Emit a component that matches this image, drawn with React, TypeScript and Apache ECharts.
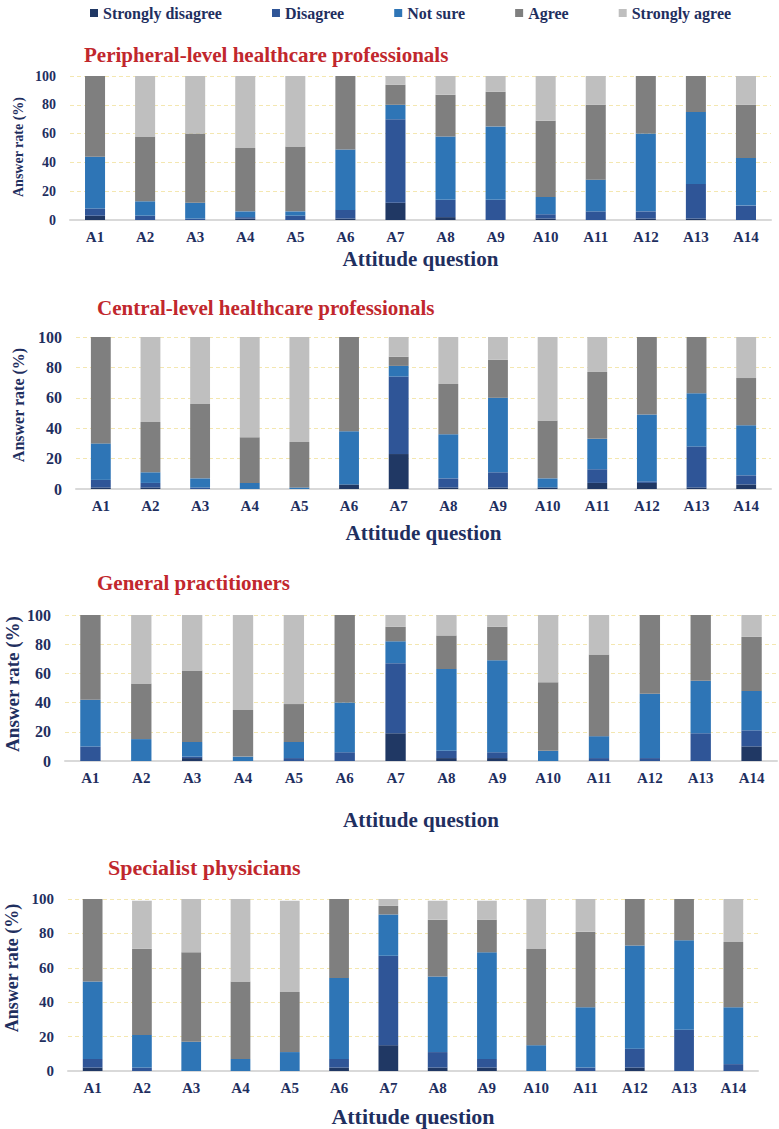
import React, { useEffect, useRef } from "react";
import * as echarts from "echarts";

// Attitude questions on the x axis
const questions = ["A1", "A2", "A3", "A4", "A5", "A6", "A7", "A8", "A9", "A10", "A11", "A12", "A13", "A14"];
const answerLevels = ["Strongly disagree", "Disagree", "Not sure", "Agree", "Strongly agree"];
const levelColors = ["#203864", "#2F5597", "#2E75B6", "#7F7F7F", "#BFBFBF"];
const yTicks = [0, 20, 40, 60, 80, 100];

// Peripheral-level healthcare professionals (%)
const periphStronglyDisagree = [3, 0, 0, 1, 0, 1, 12, 2, 0, 1, 0, 1, 1, 0];
const periphDisagree = [5, 3, 1, 1, 3, 6, 58, 12, 14, 3, 6, 5, 24, 10];
const periphNotSure = [36, 10, 11, 4, 3, 42, 10, 44, 51, 12, 22, 54, 50, 33];
const periphAgree = [56, 45, 48, 44, 45, 51, 14, 29, 24, 53, 52, 40, 25, 37];
const periphStronglyAgree = [0, 42, 40, 50, 49, 0, 6, 13, 11, 31, 20, 0, 0, 20];

// Central-level healthcare professionals (%)
const centralStronglyDisagree = [1, 1, 0, 0, 0, 3, 23, 1, 1, 1, 4, 4, 1, 3];
const centralDisagree = [5, 3, 1, 0, 0, 0, 51, 6, 10, 0, 9, 1, 27, 6];
const centralNotSure = [24, 7, 6, 4, 1, 35, 7, 29, 49, 6, 20, 44, 35, 33];
const centralAgree = [70, 33, 49, 30, 30, 62, 6, 33, 25, 38, 44, 51, 37, 31];
const centralStronglyAgree = [0, 56, 44, 66, 69, 0, 13, 31, 15, 55, 23, 0, 0, 27];

// General practitioners (%)
const gpStronglyDisagree = [0, 0, 2, 0, 0, 0, 19, 2, 2, 0, 0, 0, 0, 10];
const gpDisagree = [10, 0, 1, 0, 2, 6, 48, 5, 4, 0, 2, 2, 19, 11];
const gpNotSure = [32, 15, 10, 3, 11, 34, 15, 56, 63, 7, 15, 44, 36, 27];
const gpAgree = [58, 38, 49, 32, 26, 60, 10, 23, 23, 47, 56, 54, 45, 37];
const gpStronglyAgree = [0, 47, 38, 65, 61, 0, 8, 14, 8, 46, 27, 0, 0, 15];

// Specialist physicians (%)
const specStronglyDisagree = [2, 0, 0, 0, 0, 2, 15, 2, 2, 0, 0, 2, 0, 0];
const specDisagree = [5, 2, 0, 0, 0, 5, 52, 9, 5, 0, 2, 11, 24, 4];
const specNotSure = [45, 19, 17, 7, 11, 47, 24, 44, 62, 15, 35, 60, 52, 33];
const specAgree = [48, 50, 52, 45, 35, 46, 5, 33, 19, 56, 44, 27, 24, 38];
const specStronglyAgree = [0, 28, 31, 48, 53, 0, 4, 11, 11, 29, 19, 0, 0, 25];

const panelTitles = [
  "Peripheral-level healthcare professionals",
  "Central-level healthcare professionals",
  "General practitioners",
  "Specialist physicians",
];

const panelData = [
  [periphStronglyDisagree, periphDisagree, periphNotSure, periphAgree, periphStronglyAgree],
  [centralStronglyDisagree, centralDisagree, centralNotSure, centralAgree, centralStronglyAgree],
  [gpStronglyDisagree, gpDisagree, gpNotSure, gpAgree, gpStronglyAgree],
  [specStronglyDisagree, specDisagree, specNotSure, specAgree, specStronglyAgree],
];

const W = 779;
const H = 1129;
const SERIF = "Liberation Serif";
const NAVY = "#1F2F5F";
const RED = "#C1272D";

// Placement of each panel
const layouts = [
  { left: 70, right: 771, top: 76, bottom: 220, tick: 14, xTick: 15, titleX: 84, titleY: 55, titleSize: 21, yNameX: 18, yNameY: 147, yNameSize: 14, xNameY: 259, xNameSize: 21 },
  { left: 76, right: 771, top: 337, bottom: 489, tick: 16, xTick: 15, titleX: 97, titleY: 308, titleSize: 21, yNameX: 18, yNameY: 405, yNameSize: 16, xNameY: 533, xNameSize: 21 },
  { left: 65, right: 777, top: 615, bottom: 761, tick: 16, xTick: 15, titleX: 97, titleY: 583, titleSize: 21, yNameX: 12, yNameY: 684, yNameSize: 19, xNameY: 820, xNameSize: 21 },
  { left: 68, right: 758, top: 899, bottom: 1071, tick: 15, xTick: 15, titleX: 108, titleY: 867, titleSize: 22, yNameX: 12, yNameY: 968, yNameSize: 18, xNameY: 1116, xNameSize: 22 },
];

export default function App() {
  const ref = useRef<HTMLDivElement>(null);

  useEffect(() => {
    document.body.style.margin = "0";
    if (!ref.current) return;
    const chart = echarts.init(ref.current, undefined, { renderer: "svg" });

    const grid = layouts.map((l) => ({
      left: l.left,
      top: l.top,
      width: l.right - l.left,
      height: l.bottom - l.top,
    }));

    const xAxis = layouts.map((l, i) => ({
      type: "category",
      gridIndex: i,
      data: questions,
      axisTick: { show: false },
      axisLine: { lineStyle: { color: "#D9D9D9", width: 2 } },
      axisLabel: {
        color: NAVY,
        fontFamily: SERIF,
        fontWeight: "bold",
        fontSize: l.xTick,
        margin: 9,
      },
    }));

    const yAxis = layouts.map((l, i) => ({
      type: "value",
      gridIndex: i,
      min: yTicks[0],
      max: yTicks[yTicks.length - 1],
      interval: 20,
      axisLine: { show: false },
      axisTick: { show: false },
      axisLabel: {
        color: NAVY,
        fontFamily: SERIF,
        fontWeight: "bold",
        fontSize: l.tick,
        margin: 14,
      },
      splitLine: { lineStyle: { color: "#F4E7B0", type: [4, 3], width: 1 } },
    }));

    const series: any[] = [];
    panelData.forEach((levels, p) => {
      levels.forEach((values, k) => {
        series.push({
          type: "bar",
          name: answerLevels[k],
          xAxisIndex: p,
          yAxisIndex: p,
          stack: "panel" + p,
          barWidth: "40%",
          data: values,
          itemStyle: { color: levelColors[k] },
        });
      });
    });

    const graphic: any[] = [];
    layouts.forEach((l, p) => {
      graphic.push({
        type: "text",
        x: l.titleX,
        y: l.titleY,
        style: {
          text: panelTitles[p],
          fill: RED,
          fontFamily: SERIF,
          fontWeight: "bold",
          fontSize: l.titleSize,
          align: "left",
          verticalAlign: "middle",
        },
      });
      graphic.push({
        type: "text",
        x: l.yNameX,
        y: l.yNameY,
        rotation: Math.PI / 2,
        style: {
          text: "Answer rate (%)",
          fill: NAVY,
          fontFamily: SERIF,
          fontWeight: "bold",
          fontSize: l.yNameSize,
          align: "center",
          verticalAlign: "middle",
        },
      });
      graphic.push({
        type: "text",
        x: (l.left + l.right) / 2,
        y: l.xNameY,
        style: {
          text: "Attitude question",
          fill: NAVY,
          fontFamily: SERIF,
          fontWeight: "bold",
          fontSize: l.xNameSize,
          align: "center",
          verticalAlign: "middle",
        },
      });
    });

    chart.setOption({
      animation: false,
      backgroundColor: "#FFFFFF",
      legend: {
        data: answerLevels,
        left: 85,
        top: 0,
        itemGap: 50,
        itemWidth: 8,
        itemHeight: 8,
        icon: "rect",
        textStyle: { color: NAVY, fontFamily: SERIF, fontWeight: "bold", fontSize: 16 },
      },
      grid,
      xAxis,
      yAxis,
      series,
      graphic,
    });

    return () => chart.dispose();
  }, []);

  return <div ref={ref} style={{ width: W, height: H }} />;
}
